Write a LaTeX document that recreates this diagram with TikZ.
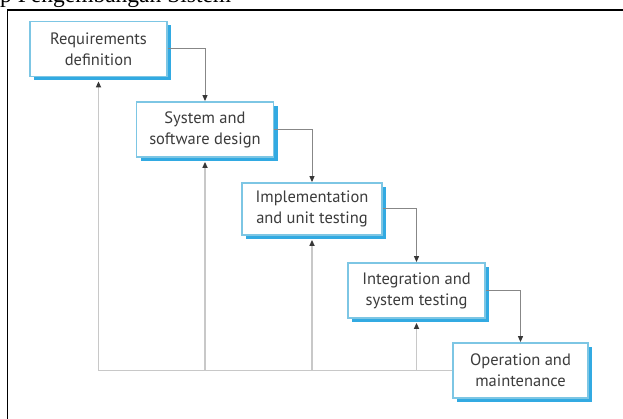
\documentclass[tikz,border=0pt]{standalone}
\usepackage{fontspec}
\setmainfont{PT Sans}
\newfontfamily\capfont{Liberation Serif}
\usetikzlibrary{arrows.meta,shadows}
\definecolor{boxline}{RGB}{125,198,228}
\definecolor{boxshade}{RGB}{50,170,226}
\definecolor{fwdline}{RGB}{135,135,135}
\definecolor{backline}{RGB}{200,200,200}
\definecolor{tipcol}{RGB}{55,55,55}
\definecolor{txtcol}{RGB}{60,60,60}
\begin{document}
\begin{tikzpicture}[x=1pt,y=-1pt,
	stage/.style={draw=boxline,line width=1.8pt,fill=white,
		drop shadow={shadow xshift=4pt,shadow yshift=-4pt,fill=boxshade,opacity=1},
		minimum width=137pt,minimum height=55pt,align=center,
		font=\fontsize{16.5}{21}\selectfont,text=txtcol},
	fwd/.style={draw=fwdline,line width=1pt,-{Triangle[width=5pt,length=6pt,color=tipcol]}},
	back/.style={draw=backline,line width=1.5pt,shorten >=4pt,-{Triangle[width=5pt,length=6pt,color=tipcol]}}]
	\clip (0,0) rectangle (623,419);
	\fill[white] (0,0) rectangle (623,419);
	% caption cut off at the top
	\node[font=\capfont\fontsize{23.5}{28}\selectfont,anchor=base west,inner sep=0pt] (title) at (0,3) {p Pengembangan Sistem};
	\draw[line width=1.5pt] (7.5,440) -- (7.5,10) -- (640,10);
	% the stages
	\node[stage] (req) at (98.5,49) {Requirements\\definition};
	\node[stage] (design) at (205,129.5) {System and\\software design};
	\node[stage,minimum width=140pt,minimum height=52pt] (impl) at (312,209) {Implementation\\and unit testing};
	\node[stage] (integ) at (416.5,290.5) {Integration and\\system testing};
	\node[stage,minimum width=135pt] (oper) at (520.5,370.5) {Operation and\\maintenance};
	% going down
	\draw[fwd] (req.east) -| (design.north);
	\draw[fwd] (design.east) -| (impl.north);
	\draw[fwd] (impl.east) -| (integ.north);
	\draw[fwd] (integ.east) -| (oper.north);
	% going back
	\draw[back] (oper.west) -| (req.south);
	\draw[back] (oper.west) -| (design.south);
	\draw[back] (oper.west) -| (impl.south);
	\draw[back] (oper.west) -| (integ.south);
\end{tikzpicture}
\end{document}
